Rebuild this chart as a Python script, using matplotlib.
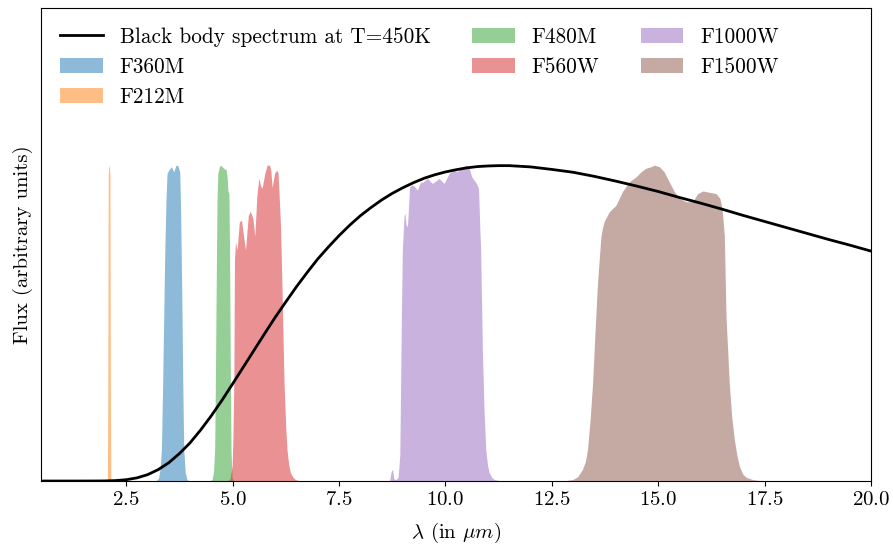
import matplotlib
matplotlib.use("Agg")
import matplotlib.pyplot as plt

# Computer Modern look
plt.rcParams["font.family"] = "serif"
plt.rcParams["font.serif"] = ["cmr10"]
plt.rcParams["mathtext.fontset"] = "cm"
plt.rcParams["axes.formatter.use_mathtext"] = True
plt.rcParams["axes.unicode_minus"] = False
plt.rcParams["font.size"] = 15

# Black body spectrum (normalised, peak = 1)
bb_wave = [0.5, 1.0, 1.5, 1.75, 2.0, 2.25, 2.5, 2.75, 3.0, 3.25, 3.5, 3.75, 4.0,
           4.25, 4.5, 4.75, 5.0, 5.25, 5.5, 5.75, 6.0, 6.25, 6.5, 6.75, 7.0, 7.25,
           7.5, 7.75, 8.0, 8.25, 8.5, 8.75, 9.0, 9.25, 9.5, 9.75, 10.0, 10.25, 10.5,
           10.75, 11.0, 11.25, 11.5, 11.75, 12.0, 12.5, 13.0, 13.5, 14.0, 14.5,
           15.0, 15.5, 16.0, 16.5, 17.0, 17.5, 18.0, 18.5, 19.0, 19.5, 20.0]
bb_flux = [0.0, 0.0, 0.0, 0.0001, 0.0003, 0.0014, 0.0041, 0.0099, 0.020, 0.036,
           0.058, 0.087, 0.121, 0.162, 0.207, 0.256, 0.308, 0.361, 0.414, 0.467,
           0.519, 0.568, 0.616, 0.661, 0.704, 0.742, 0.778, 0.811, 0.841, 0.867,
           0.891, 0.912, 0.930, 0.946, 0.960, 0.971, 0.980, 0.987, 0.993, 0.997,
           0.999, 1.000, 1.000, 0.998, 0.996, 0.988, 0.979, 0.966, 0.951, 0.935,
           0.918, 0.899, 0.881, 0.862, 0.842, 0.823, 0.804, 0.785, 0.766, 0.748,
           0.729]

# Filter throughputs (normalised)
f360m_wave = [3.22, 3.25, 3.276, 3.31, 3.339, 3.365, 3.393, 3.42, 3.447, 3.471,
              3.511, 3.574, 3.628, 3.682, 3.729, 3.769, 3.786, 3.805, 3.824, 3.845,
              3.864, 3.90, 3.941, 3.98]
f360m_tp = [0.0, 0.004, 0.01, 0.04, 0.098, 0.28, 0.52, 0.74, 0.889, 0.974,
            0.984, 0.995, 0.979, 1.0, 0.998, 0.979, 0.889, 0.72, 0.52, 0.27,
            0.098, 0.025, 0.003, 0.0]

f212m_wave = [2.07, 2.08, 2.09, 2.10, 2.12, 2.13, 2.14, 2.15]
f212m_tp = [0.0, 0.3, 0.97, 1.0, 0.99, 0.97, 0.3, 0.0]

f480m_wave = [4.48, 4.53, 4.565, 4.59, 4.605, 4.62, 4.645, 4.665, 4.70, 4.73, 4.765,
              4.805, 4.86, 4.885, 4.90, 4.925, 4.94, 4.95, 4.96, 4.975, 5.0, 5.03]
f480m_tp = [0.0, 0.003, 0.03, 0.098, 0.28, 0.52, 0.889, 0.974, 0.995, 1.0, 0.995,
            0.99, 0.985, 0.96, 0.92, 0.91, 0.73, 0.52, 0.31, 0.09, 0.01, 0.0]

f560w_wave = [4.90, 4.95, 5.00, 5.02, 5.04, 5.056, 5.08, 5.117, 5.17, 5.22, 5.275,
              5.315, 5.38, 5.43, 5.49, 5.534, 5.58, 5.628, 5.668, 5.705, 5.77, 5.823,
              5.88, 5.91, 5.94, 6.00, 6.05, 6.08, 6.10, 6.14, 6.17, 6.22, 6.26, 6.29,
              6.33, 6.37, 6.43, 6.49, 6.57]
f560w_tp = [0.0, 0.005, 0.045, 0.14, 0.31, 0.70, 0.756, 0.731, 0.82, 0.826, 0.77,
            0.731, 0.84, 0.854, 0.83, 0.775, 0.90, 0.959, 0.935, 0.927, 0.975, 1.0,
            1.0, 0.984, 0.93, 0.975, 0.984, 0.975, 0.921, 0.80, 0.627, 0.31, 0.17,
            0.098, 0.05, 0.025, 0.01, 0.003, 0.0]

f1000w_wave = [8.70, 8.74, 8.77, 8.80, 8.85, 8.90, 8.94, 8.96, 8.98, 9.00, 9.04,
               9.06, 9.09, 9.12, 9.17, 9.22, 9.27, 9.35, 9.43, 9.47, 9.59, 9.70,
               9.79, 9.86, 9.98, 10.10, 10.22, 10.29, 10.37, 10.50, 10.57, 10.63,
               10.74, 10.79, 10.82, 10.84, 10.88, 10.92, 10.96, 11.00, 11.04, 11.10,
               11.16, 11.27]
f1000w_tp = [0.0, 0.03, 0.035, 0.005, 0.003, 0.01, 0.08, 0.31, 0.55, 0.731, 0.84,
             0.847, 0.81, 0.805, 0.931, 0.937, 0.935, 0.921, 0.947, 0.945, 0.958,
             0.942, 0.950, 0.958, 0.942, 0.974, 0.984, 0.979, 0.990, 1.0, 0.990,
             0.963, 0.942, 0.926, 0.80, 0.731, 0.415, 0.22, 0.098, 0.05, 0.025,
             0.01, 0.003, 0.0]

f1500w_wave = [12.85, 13.00, 13.12, 13.23, 13.30, 13.35, 13.41, 13.47, 13.53,
               13.585, 13.665, 13.70, 13.74, 13.86, 14.02, 14.17, 14.33, 14.49,
               14.61, 14.72, 14.84, 14.92, 15.04, 15.15, 15.27, 15.39, 15.51, 15.66,
               15.82, 15.94, 16.06, 16.21, 16.37, 16.46, 16.51, 16.565, 16.605,
               16.68, 16.74, 16.80, 16.86, 16.92, 17.00, 17.08, 17.23, 17.39]
f1500w_tp = [0.0, 0.003, 0.012, 0.035, 0.06, 0.098, 0.19, 0.31, 0.48, 0.627,
             0.773, 0.80, 0.821, 0.852, 0.873, 0.916, 0.947, 0.963, 0.979, 0.990,
             0.995, 1.0, 0.995, 0.979, 0.947, 0.916, 0.895, 0.884, 0.884, 0.910,
             0.918, 0.914, 0.910, 0.895, 0.863, 0.778, 0.52, 0.31, 0.20, 0.13,
             0.08, 0.045, 0.02, 0.01, 0.003, 0.0]

filters = [
    ("F360M", f360m_wave, f360m_tp),
    ("F212M", f212m_wave, f212m_tp),
    ("F480M", f480m_wave, f480m_tp),
    ("F560W", f560w_wave, f560w_tp),
    ("F1000W", f1000w_wave, f1000w_tp),
    ("F1500W", f1500w_wave, f1500w_tp),
]

fig = plt.figure(figsize=(8.93, 5.45), dpi=100)
ax = fig.add_axes([0.046, 0.1174, 0.9294, 0.868])

ax.plot(bb_wave, bb_flux, color="black", lw=2, label="Black body spectrum at T=450K")
for name, wave, tp in filters:
    ax.fill_between(wave, tp, alpha=0.5, lw=0, label=name)

ax.set_xlim(0.5, 20)
ax.set_ylim(0, 1.5)
ax.set_yticks([])
ax.set_xlabel(r"$\lambda$ (in $\mu m$)", labelpad=9)
ax.set_ylabel("Flux (arbitrary units)", labelpad=6)
ax.legend(loc="upper left", ncol=3, frameon=False, fontsize=15.3,
          columnspacing=1.95, borderaxespad=0.5)

fig.savefig("out.png", dpi=100)
